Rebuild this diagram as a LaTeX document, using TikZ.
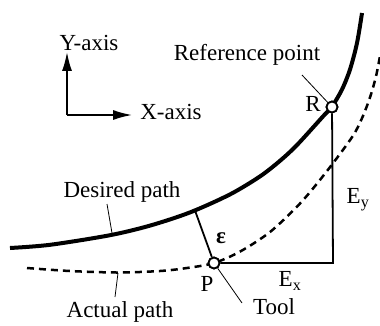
\documentclass[tikz,border=0pt]{standalone}
\usepackage{fontspec}
\setmainfont{Liberation Serif}
\usetikzlibrary{arrows.meta}

\begin{document}
\begin{tikzpicture}[x=1pt,y=-1pt,>={Latex[length=19pt,width=10pt]},font=\fontsize{23}{27}\selectfont]
\tikzstyle{desired}=[line width=4pt]
\tikzstyle{actual}=[line width=2.5pt,dash pattern=on 7pt off 5pt]
\tikzstyle{errline}=[line width=1.8pt]
\tikzstyle{leader}=[line width=0.8pt]
\tikzstyle{marker}=[circle,draw,line width=1.8pt,fill=white,inner sep=0pt,minimum size=11pt]
\tikzstyle{lbl}=[inner sep=1pt]
\useasboundingbox (0,0) rectangle (380,325);
% axes
\coordinate (o) at (67,115);
\node[lbl] (ylab) at (89,43) {Y-axis};
\node[lbl] (xlab) at (171,112) {X-axis};
\draw[->,line width=1.8pt] (o) -- (o |- ylab.south);
\draw[->,line width=1.8pt,shorten >=7pt] (o) -- (o -| xlab.west);
% paths
\draw[desired] plot[smooth,tension=0.5] coordinates {(10,248) (50,244.8) (110,235.2) (150,225.6) (190,212.4) (230,194.4) (260,176.4) (280,160.8) (297,145) (323,116.4) (332,106.5) (342,89.5) (350,69.5) (357,43) (362,13)};
\draw[actual] plot[smooth,tension=0.5] coordinates {(27,268) (70,271) (118,272.5) (160,271) (187,268) (214,263) (240,251.6) (270,232) (300,203.5) (326,172.3) (352,137.2) (362,118.2) (370,97.4) (376,76.4) (380,56)};
% error
\coordinate (e0) at (195,210.5);
\coordinate (c) at (333,263);
\node[marker] (R) at (332,107) {};
\node[marker] (P) at (214,263) {};
\draw[errline] (e0) -- (P);
\draw[errline] (R) -- (c) -- (P);
\node[marker] at (R) {};
\node[marker] at (P) {};
\node[lbl] (eps) at (221,238) {\bfseries ε};
\node[lbl] (ex) at (290,281) {E\textsubscript{x}};
\node[lbl] (ey) at (358,200) {E\textsubscript{y}};
\node[lbl] (rlab) at (313,104) {R};
\node[lbl] (plab) at (207,284) {P};
% labels and leaders
\node[lbl] (reflab) at (247,55) {Reference point};
\node[lbl] (deslab) at (122,192) {Desired path};
\node[lbl] (actlab) at (120,312) {Actual path};
\node[lbl] (toollab) at (274,307) {Tool};
\coordinate (r1) at (302,75);
\coordinate (d1) at (107,204);
\coordinate (d2) at (112,233);
\coordinate (a1) at (118,273);
\coordinate (a2) at (115,297);
\coordinate (t1) at (242,303);
\draw[leader] (r1) -- (R);
\draw[leader] (d1) -- (d2);
\draw[leader] (a1) -- (a2);
\draw[leader] (P) -- (t1);
\end{tikzpicture}
\end{document}
